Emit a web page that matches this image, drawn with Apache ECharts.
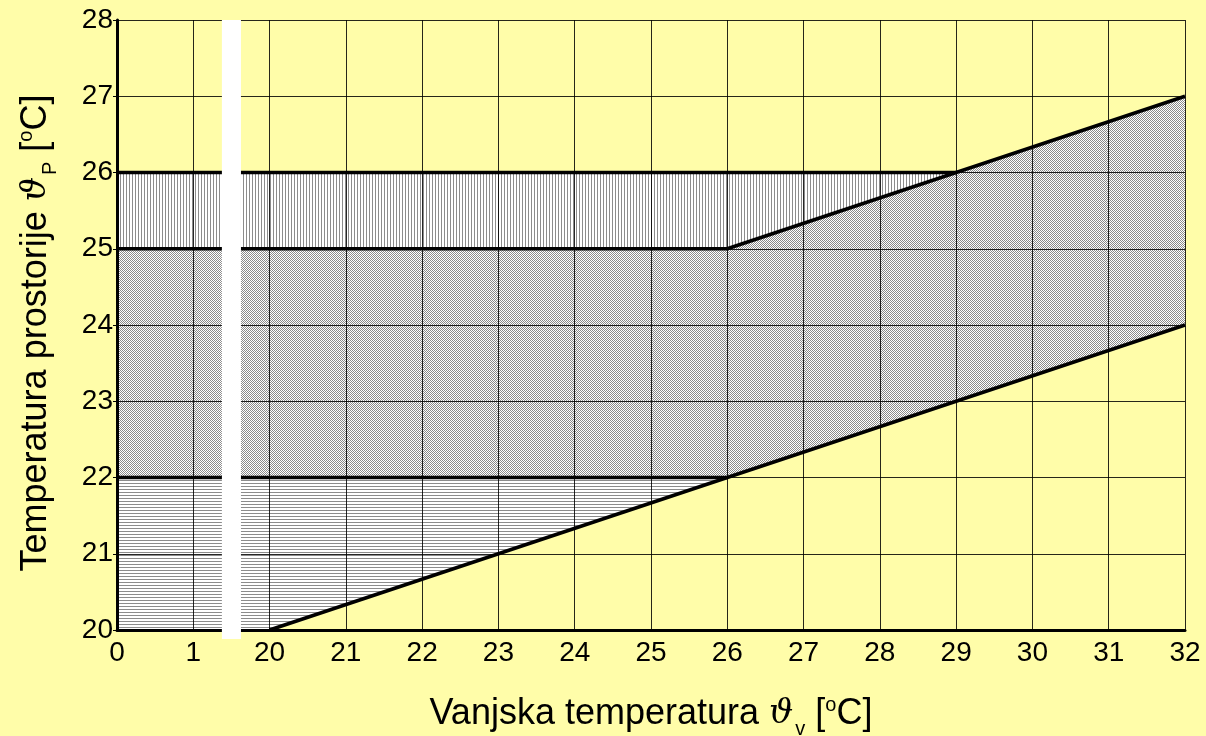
<!DOCTYPE html>
<html>
<head>
<meta charset="utf-8">
<script src="https://cdn.jsdelivr.net/npm/echarts@6/dist/echarts.min.js"></script>
<style>
html,body{margin:0;padding:0;background:#FFFDA9;overflow:hidden;}
#chart{width:1206px;height:736px;}
</style>
</head>
<body>
<div id="chart"></div>
<script>
// Category positions on the (broken) x axis
const xLabels = ['0','1','20','21','22','23','24','25','26','27','28','29','30','31','32'];
const yMin = 20, yMax = 28;

// Regions (outer temperature, room temperature)
const regionHorizontal = [[0,20],[20,20],[26,22],[0,22]];
const regionCross = [[0,22],[26,22],[32,24],[32,27],[26,25],[0,25]];
const regionVertical = [[0,25],[26,25],[29,26],[0,26]];

// Thick boundary lines
const lineLow22 = [[0,22],[26,22]];
const line25 = [[0,25],[26,25]];
const line26 = [[0,26],[29,26]];
const lineLowerSlope = [[20,20],[32,24]];
const lineUpperSlope = [[26,25],[32,27]];

// Axis break marker between 1 and 20
const breakPos = [1.5];

function idx(v){ return xLabels.indexOf(String(v)); }
function toIdx(poly){ return poly.map(p => [idx(p[0]), p[1]]); }

function makePattern(type){
  const c = document.createElement('canvas');
  const g = c.getContext('2d');
  if (type === 'v') {
    c.width = 3; c.height = 1;
    g.fillStyle = '#fff'; g.fillRect(0,0,3,1);
    g.fillStyle = '#8c8c8c'; g.fillRect(0,0,1,1);
  } else if (type === 'h') {
    c.width = 1; c.height = 3;
    g.fillStyle = '#fff'; g.fillRect(0,0,1,3);
    g.fillStyle = '#8c8c8c'; g.fillRect(0,0,1,1);
  } else {
    c.width = 2; c.height = 2;
    g.fillStyle = '#fff'; g.fillRect(0,0,2,2);
    g.fillStyle = '#8a8a8a'; g.fillRect(0,0,1,1); g.fillRect(1,1,1,1);
  }
  return {image: c, repeat: 'repeat'};
}

const patH = makePattern('h'), patV = makePattern('v'), patC = makePattern('c');

function polySeries(poly, pattern){
  const pts = toIdx(poly);
  return {
    type: 'custom', z: 1, silent: true,
    data: [0],
    renderItem: function(params, api){
      return {type: 'polygon', shape: {points: pts.map(p => api.coord(p))},
              style: {fill: pattern, stroke: null}};
    }
  };
}
function lineSeries(line){
  return {
    type: 'line', z: 10, silent: true, symbol: 'none',
    data: toIdx(line),
    lineStyle: {color: '#000', width: 3.5},
    clip: false
  };
}

const FONT = 'Liberation Sans';
const richTitle = {
  th: {fontFamily: 'DejaVu Serif', fontStyle: 'italic', fontSize: 34, color: '#000'},
  sub: {fontFamily: FONT, fontSize: 20, color: '#000', padding: [30, 0, 0, 2]},
  sup: {fontFamily: FONT, fontSize: 20, color: '#000', padding: [0, 0, 18, 0]}
};

const chart = echarts.init(document.getElementById('chart'));
chart.setOption({
  backgroundColor: '#FFFDA9',
  animation: false,
  grid: {left: 117, right: 21, top: 20, bottom: 106, outerBoundsMode: 'none', containLabel: false},
  xAxis: {
    type: 'value', min: 0, max: xLabels.length - 1, interval: 1, z: 5,
    axisLine: {lineStyle: {color: '#000', width: 3}},
    axisTick: {show: false},
    splitLine: {lineStyle: {color: '#000', width: 1, opacity: 0.85}},
    axisLabel: {formatter: v => xLabels[v], color: '#000', fontFamily: FONT, fontSize: 28, margin: 9},
    name: 'Vanjska temperatura {th|ϑ}{sub|v} [{sup|o}C]',
    nameLocation: 'middle', nameGap: 49,
    nameTextStyle: {fontFamily: FONT, fontSize: 36, color: '#000', lineHeight: 70, rich: richTitle}
  },
  yAxis: {
    type: 'value', min: yMin, max: yMax, interval: 1, z: 5,
    axisLine: {show: true, lineStyle: {color: '#000', width: 3}},
    axisTick: {show: true, length: 4, lineStyle: {color: '#000', width: 1}},
    splitLine: {lineStyle: {color: '#000', width: 1, opacity: 0.85}},
    axisLabel: {color: '#000', fontFamily: FONT, fontSize: 28, margin: 4},
    name: 'Temperatura prostorije {th|ϑ}{sub|P} [{sup|o}C]',
    nameLocation: 'middle', nameGap: 45, nameRotate: 90,
    nameTextStyle: {fontFamily: FONT, fontSize: 36, color: '#000', lineHeight: 70, padding: [0, 16, 0, 0], rich: richTitle}
  },
  series: [
    polySeries(regionHorizontal, patH),
    polySeries(regionCross, patC),
    polySeries(regionVertical, patV),
    lineSeries(lineLow22),
    lineSeries(line25),
    lineSeries(line26),
    lineSeries(lineLowerSlope),
    lineSeries(lineUpperSlope),
    {
      type: 'custom', z: 20, silent: true, data: breakPos,
      renderItem: function(params, api){
        const x = api.value(0);
        const top = api.coord([x, yMax]);
        const bot = api.coord([x, yMin]);
        const w = api.size([0.25, 0])[0];
        return {type: 'rect', shape: {x: top[0] - w/2, y: top[1], width: w, height: bot[1] - top[1] + 9},
                style: {fill: '#fff'}};
      }
    }
  ]
});
</script>
</body>
</html>
